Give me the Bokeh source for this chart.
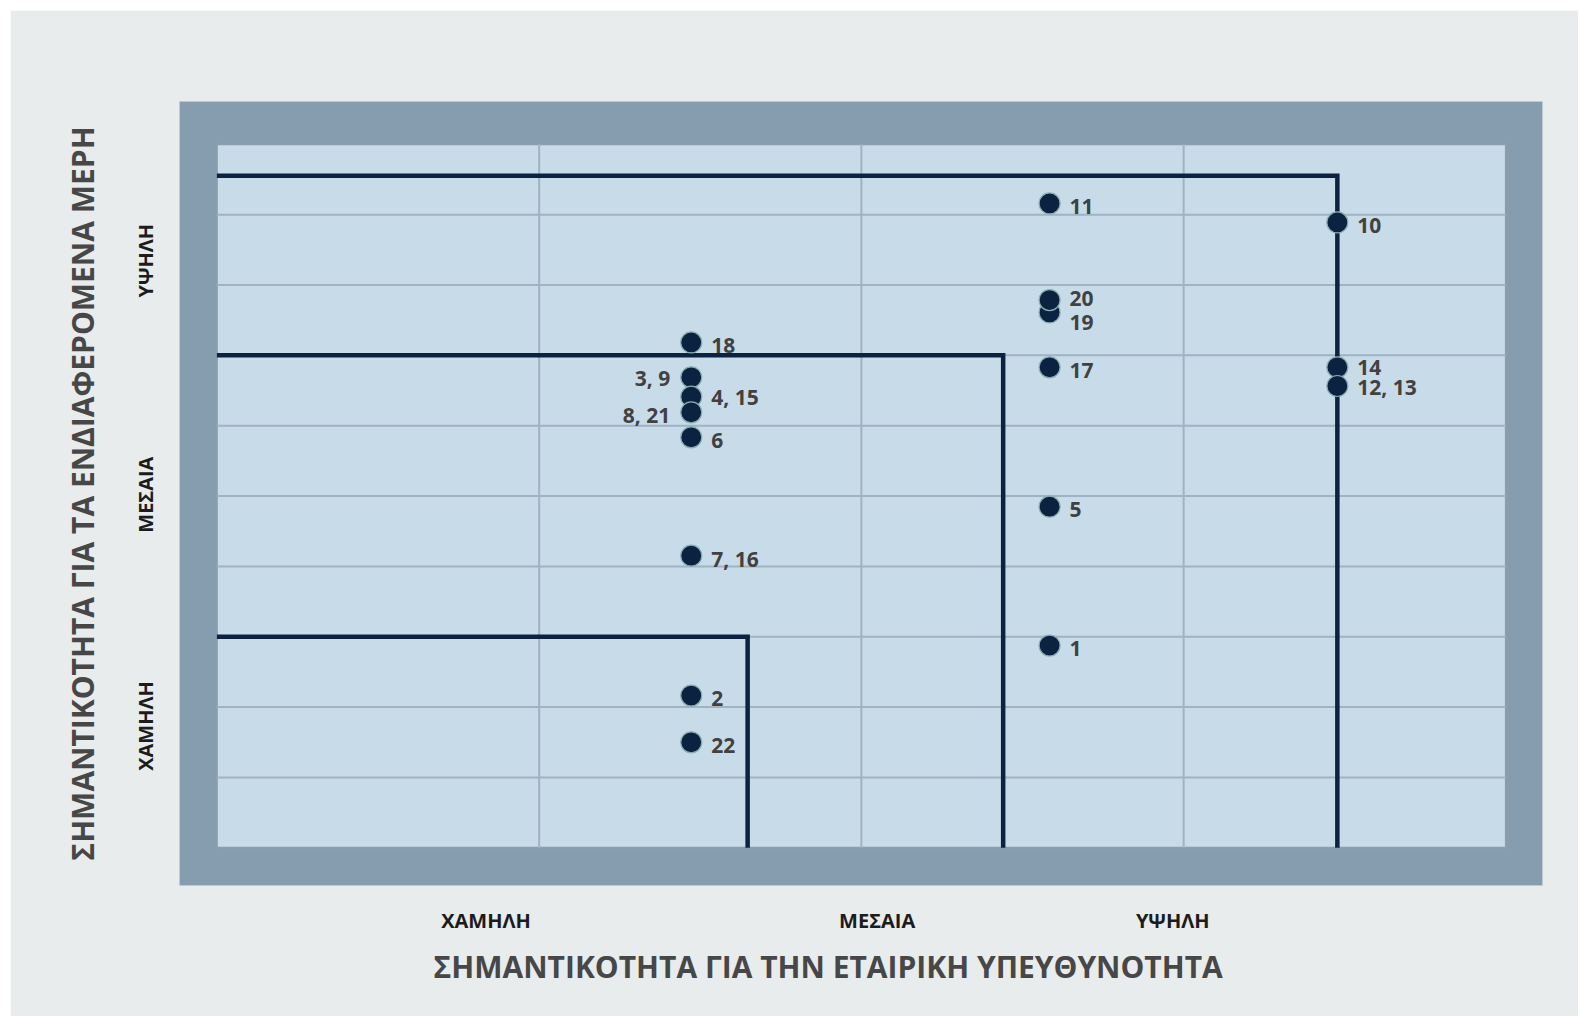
from bokeh.plotting import figure
from bokeh.models import Range1d, FixedTicker, Title, ColumnDataSource
from bokeh.embed import file_html
from bokeh.resources import INLINE
from bokeh.core.properties import value

# ---------------- data ----------------
labels = ["1", "2", "3, 9", "4, 15", "5", "6", "7, 16", "8, 21", "10", "11",
          "14", "12, 13", "17", "18", "19", "20", "22"]
csr_importance = [2.584, 1.472, 1.472, 1.472, 2.584, 1.472, 1.472, 1.472, 3.477, 2.584,
                  3.477, 3.477, 2.584, 1.472, 2.584, 2.584, 1.472]
stakeholder_importance = [2.874, 2.164, 6.687, 6.412, 4.849, 5.834, 4.153, 6.190, 8.889, 9.159,
                          6.829, 6.564, 6.829, 7.184, 7.610, 7.786, 1.500]

zone_x = [1.647, 2.440, 3.477]
zone_y = [3.0, 7.0, 9.552]

x_tick_pos = [0.835, 2.049, 2.966]
x_tick_labels = ["ΧΑΜΗΛΗ", "ΜΕΣΑΙΑ", "ΥΨΗΛΗ"]
y_tick_pos = [1.731, 5.020, 8.345]
y_tick_labels = ["ΧΑΜΗΛΗ", "ΜΕΣΑΙΑ", "ΥΨΗΛΗ"]

x_title = "ΣΗΜΑΝΤΙΚΟΤΗΤΑ ΓΙΑ ΤΗΝ ΕΤΑΙΡΙΚΗ ΥΠΕΥΘΥΝΟΤΗΤΑ"
y_title = "ΣΗΜΑΝΤΙΚΟΤΗΤΑ ΓΙΑ ΤΑ ΕΝΔΙΑΦΕΡΟΜΕΝΑ ΜΕΡΗ"

X_MAX = 4
Y_MAX = 10

# ---------------- style ----------------
FONT = "Open Sans"
PAGE_BG = "#e8ecec"
FRAME = "#869db0"
INNER = "#c8dbe9"
GRID = "#a1b2c0"
NAVY = "#0b2341"
LABEL_COL = "#414141"
LEFT_LABELS = {"3, 9", "8, 21"}
NUDGE = {"19": 10, "20": -2, "14": 0, "4, 15": 0, "3, 9": 1, "12, 13": 1}

p = figure(width=1568, height=1006, output_backend="svg", toolbar_location=None,
           x_range=Range1d(-0.116, 4.1136), y_range=Range1d(-0.5357, 10.608),
           min_border_left=169, min_border_right=36, min_border_top=91, min_border_bottom=131,
           background_fill_color=FRAME, border_fill_color=PAGE_BG, outline_line_color=None)
p.margin = (10, 0, 0, 10)
p.grid.visible = False

# inner panel
p.quad(left=0, right=X_MAX, bottom=0, top=Y_MAX, fill_color=INNER, line_color="#8c9eae", line_width=2)

# grid lines inside the inner panel
hy = list(range(1, Y_MAX))
p.segment(x0=[0] * len(hy), x1=[X_MAX] * len(hy), y0=hy, y1=hy, line_color=GRID, line_width=2)
vx = list(range(1, X_MAX))
p.segment(x0=vx, x1=vx, y0=[0] * len(vx), y1=[Y_MAX] * len(vx), line_color=GRID, line_width=2)

# zone boundaries
p.multi_line(xs=[[0, zx, zx] for zx in zone_x], ys=[[zy, zy, 0] for zy in zone_y],
             line_color=NAVY, line_width=4.5, line_join="miter")

# points
p.scatter(x=csr_importance, y=stakeholder_importance, size=21, fill_color=NAVY,
          line_color="#8aaeb0", line_width=1.2)

# labels
right = dict(x=[], y=[], text=[], dy=[])
left = dict(x=[], y=[], text=[], dy=[])
for lab, xv, yv in zip(labels, csr_importance, stakeholder_importance):
    d = left if lab in LEFT_LABELS else right
    d["x"].append(xv)
    d["y"].append(yv)
    d["text"].append(lab)
    d["dy"].append(NUDGE.get(lab, 3))

common = dict(text_baseline="middle", text_font=value(FONT), text_font_style="bold",
              text_font_size="21px", text_color=LABEL_COL)
p.text(x="x", y="y", text="text", y_offset="dy", x_offset=20, text_align="left",
       source=ColumnDataSource(right), **common)
p.text(x="x", y="y", text="text", y_offset="dy", x_offset=-21, text_align="right",
       source=ColumnDataSource(left), **common)

# axes
p.xaxis.ticker = FixedTicker(ticks=x_tick_pos)
p.xaxis.major_label_overrides = {t: l for t, l in zip(x_tick_pos, x_tick_labels)}
p.yaxis.ticker = FixedTicker(ticks=y_tick_pos)
p.yaxis.major_label_overrides = {t: l for t, l in zip(y_tick_pos, y_tick_labels)}
for ax in (p.xaxis[0], p.yaxis[0]):
    ax.axis_line_color = None
    ax.major_tick_line_color = None
    ax.minor_tick_line_color = None
    ax.major_tick_out = 0
    ax.major_tick_in = 0
    ax.major_label_text_font = FONT
    ax.major_label_text_font_style = "bold"
    ax.major_label_text_font_size = "20px"
    ax.major_label_text_color = "#1c1c1c"
p.xaxis.major_label_standoff = 21
p.yaxis.major_label_standoff = 20
p.yaxis.major_label_orientation = "vertical"

p.yaxis.axis_label = y_title
p.yaxis.axis_label_text_font = FONT
p.yaxis.axis_label_text_font_style = "bold"
p.yaxis.axis_label_text_font_size = "30px"
p.yaxis.axis_label_text_color = "#474747"
p.yaxis.axis_label_standoff = 27

p.add_layout(Title(text=x_title, align="left", offset=254, text_font=FONT,
                   text_font_style="bold", text_font_size="30px", text_color="#474747",
                   standoff=14), "below")

open("out.html", "w").write(file_html(p, INLINE))
